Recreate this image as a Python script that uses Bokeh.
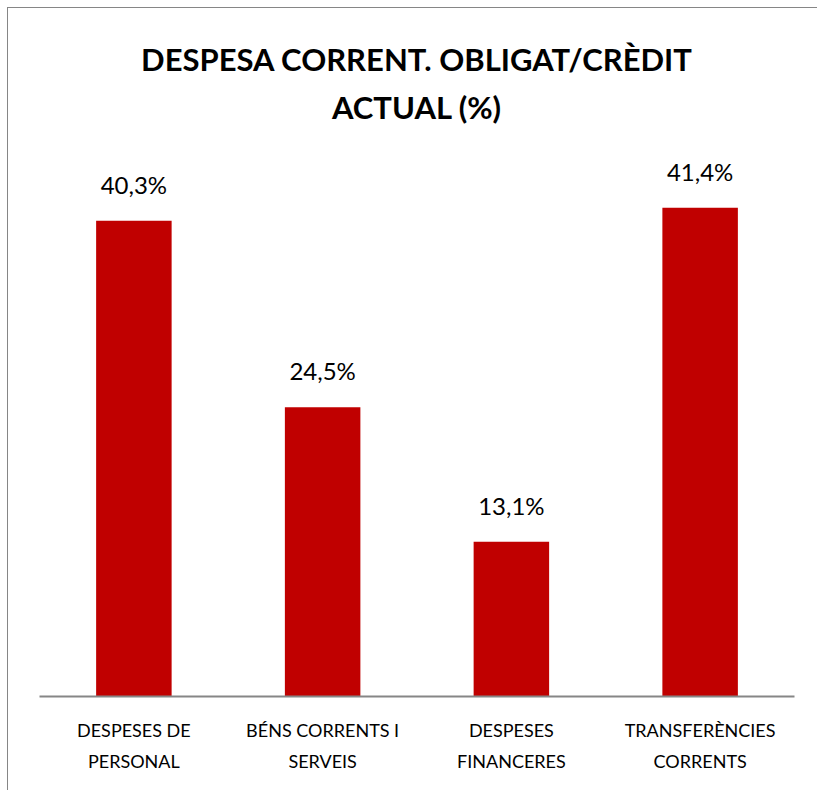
from bokeh.plotting import figure
from bokeh.models import ColumnDataSource, LabelSet, FactorRange, Label
from bokeh.core.properties import value
from bokeh.embed import file_html
from bokeh.resources import INLINE

# ---- data ----
categories = ["DESPESES DE\nPERSONAL", "BÉNS CORRENTS I\nSERVEIS",
              "DESPESES\nFINANCERES", "TRANSFERÈNCIES\nCORRENTS"]
values = [40.3, 24.5, 13.1, 41.4]
title_line1 = "DESPESA CORRENT. OBLIGAT/CRÈDIT"
title_line2 = "ACTUAL (%)"

labels = [f"{v:.1f}%".replace(".", ",") for v in values]
source = ColumnDataSource(dict(cat=categories, val=values, lab=labels))

# frame spans the whole upper area so the title can sit inside it
Y_TOP = 57.6
p = figure(x_range=FactorRange(*categories), y_range=(0, Y_TOP), title=None,
           width=810, height=783, output_backend="svg", toolbar_location=None,
           min_border_left=31, min_border_right=24, min_border_top=8,
           min_border_bottom=95)

p.vbar(x="cat", top="val", width=0.40, source=source,
       fill_color="#C00000", line_color=None)

p.add_layout(LabelSet(x="cat", y="val", text="lab", source=source,
                      text_align="center", text_baseline="bottom", y_offset=22,
                      text_font=value("Lato"), text_font_size="24px",
                      text_color="#000000"))

# two-line chart title, centred over the middle of the category axis
for txt, yv in ((title_line1, 54.0), (title_line2, 49.95)):
    p.add_layout(Label(x=len(categories) / 2, y=yv, text=txt,
                       text_align="center", text_baseline="alphabetic",
                       text_font="Lato", text_font_size="31px",
                       text_font_style="bold", text_color="#000000"))

p.yaxis.visible = False
p.xgrid.grid_line_color = None
p.ygrid.grid_line_color = None
p.outline_line_color = None

ax = p.xaxis[0]
ax.axis_line_color = "#868686"
ax.axis_line_width = 2
ax.major_tick_line_color = None
ax.minor_tick_line_color = None
ax.major_label_text_font = "Lato"
ax.major_label_text_font_size = "18px"
ax.major_label_text_color = "#000000"
ax.major_label_standoff = 16
ax.major_label_text_line_height = 1.45

p.styles = {"margin-left": "7px", "margin-top": "7px",
            "border-left": "1px solid #868686",
            "border-top": "1px solid #868686"}

open("out.html", "w").write(file_html(p, INLINE))
